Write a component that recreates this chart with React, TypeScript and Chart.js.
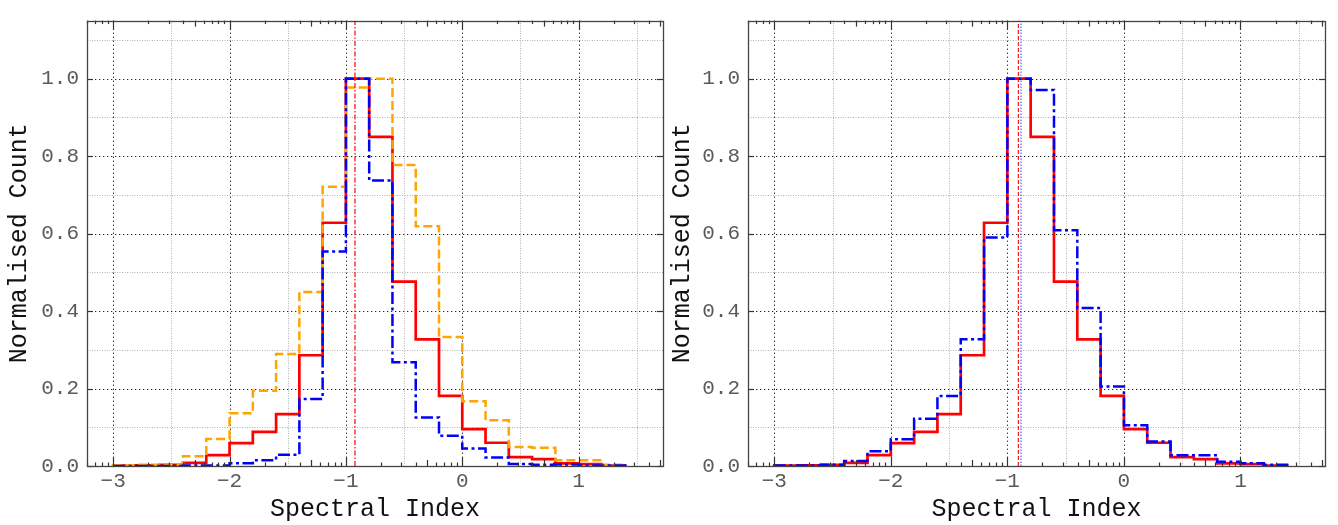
import React, { useEffect, useRef } from 'react';
import { Chart, registerables } from 'chart.js';
Chart.register(...registerables);

// ---- data ----
const binEdges = [-3.0, -2.8, -2.6, -2.4, -2.2, -2.0, -1.8, -1.6, -1.4, -1.2, -1.0, -0.8, -0.6, -0.4, -0.2, 0.0, 0.2, 0.4, 0.6, 0.8, 1.0, 1.2, 1.4];

const leftRed = [0.001, 0.002, 0.003, 0.008, 0.028, 0.059, 0.088, 0.134, 0.286, 0.628, 1.0, 0.85, 0.476, 0.327, 0.181, 0.095, 0.06, 0.023, 0.018, 0.007, 0.005, 0.001];
const leftOrange = [0.002, 0.003, 0.004, 0.025, 0.07, 0.136, 0.194, 0.289, 0.449, 0.721, 0.977, 1.0, 0.777, 0.619, 0.333, 0.167, 0.118, 0.049, 0.047, 0.015, 0.015, 0.003];
const leftBlue = [0.0, 0.0, 0.0, 0.001, 0.001, 0.007, 0.015, 0.029, 0.173, 0.554, 1.0, 0.737, 0.268, 0.125, 0.078, 0.045, 0.022, 0.005, 0.003, 0.004, 0.001, 0.001];

const rightRed = [0.001, 0.002, 0.003, 0.008, 0.028, 0.059, 0.088, 0.134, 0.286, 0.628, 1.0, 0.85, 0.476, 0.327, 0.181, 0.095, 0.06, 0.023, 0.018, 0.007, 0.005, 0.001];
const rightBlue = [0.001, 0.001, 0.003, 0.013, 0.038, 0.069, 0.122, 0.181, 0.327, 0.59, 1.0, 0.971, 0.609, 0.408, 0.205, 0.105, 0.063, 0.028, 0.028, 0.011, 0.007, 0.003];

const leftMedian = -0.922;
const rightRedMedian = -0.906;
const rightBlueMedian = -0.883;

const xMajorTicks = [-3, -2, -1, 0, 1];
const xMinorGrid = [-2.5, -1.5, -0.5, 0.5, 1.5];
const yMajorTicks = [0, 0.2, 0.4, 0.6, 0.8, 1.0];
const yMinorGrid = [0.1, 0.3, 0.5, 0.7, 0.9, 1.1];
const logMinorMultipliers = [2, 3, 4, 5, 6, 7, 8, 9];
const logDecades = [-4, -3, -2, -1, 0, 1];

const X_MIN = -3.225;
const X_MAX = 1.725;
const Y_MIN = 0;
const Y_MAX = 1.15;

const FONT = "'Liberation Mono', 'Courier New', 'DejaVu Sans Mono', monospace";

// step outline: each value holds from its left edge to the next edge
function histPoints(edges: number[], values: number[]) {
  const pts: { x: number; y: number }[] = [{ x: edges[0], y: 0 }];
  values.forEach((v, i) => pts.push({ x: edges[i], y: v }));
  pts.push({ x: edges[edges.length - 1], y: values[values.length - 1] });
  pts.push({ x: edges[edges.length - 1], y: 0 });
  return pts;
}

function vline(x: number) {
  return [{ x, y: Y_MIN }, { x, y: Y_MAX }];
}

function fmtX(v: number) {
  return v < 0 ? '\u2212' + Math.abs(v) : String(v);
}

const framePlugin = {
  id: 'frameTicks',
  beforeDatasetsDraw(chart: any) {
    const { ctx, chartArea, scales } = chart;
    const { left, right, top, bottom } = chartArea;
    const x = scales.x, y = scales.y;
    ctx.save();
    ctx.lineWidth = 1;
    // minor grid
    ctx.strokeStyle = '#b0b0b0';
    ctx.setLineDash([1, 1.5]);
    xMinorGrid.forEach((v) => {
      const px = Math.round(x.getPixelForValue(v)) + 0.5;
      if (px < left || px > right) return;
      ctx.beginPath(); ctx.moveTo(px, top); ctx.lineTo(px, bottom); ctx.stroke();
    });
    yMinorGrid.forEach((v) => {
      const py = Math.round(y.getPixelForValue(v)) + 0.5;
      ctx.beginPath(); ctx.moveTo(left, py); ctx.lineTo(right, py); ctx.stroke();
    });
    // major grid
    ctx.strokeStyle = '#222';
    ctx.setLineDash([1.3, 2.7]);
    xMajorTicks.forEach((v) => {
      const px = Math.round(x.getPixelForValue(v)) + 0.5;
      ctx.beginPath(); ctx.moveTo(px, top); ctx.lineTo(px, bottom); ctx.stroke();
    });
    yMajorTicks.forEach((v) => {
      const py = Math.round(y.getPixelForValue(v)) + 0.5;
      ctx.beginPath(); ctx.moveTo(left, py); ctx.lineTo(right, py); ctx.stroke();
    });
    ctx.restore();
  },
  afterDatasetsDraw(chart: any) {
    const { ctx, chartArea, scales } = chart;
    const { left, right, top, bottom } = chartArea;
    const x = scales.x, y = scales.y;
    ctx.save();
    ctx.setLineDash([]);
    ctx.strokeStyle = '#333';
    ctx.lineWidth = 1.2;
    // log-style minor ticks on top & bottom
    logDecades.forEach((k) => {
      logMinorMultipliers.forEach((m) => {
        const v = k + Math.log10(m);
        if (v <= X_MIN || v >= X_MAX) return;
        const px = Math.round(x.getPixelForValue(v)) + 0.5;
        const len = m === 5 ? 6 : 3.5;
        ctx.beginPath(); ctx.moveTo(px, top); ctx.lineTo(px, top + len); ctx.stroke();
        ctx.beginPath(); ctx.moveTo(px, bottom); ctx.lineTo(px, bottom - len); ctx.stroke();
      });
    });
    xMajorTicks.forEach((v) => {
      const px = Math.round(x.getPixelForValue(v)) + 0.5;
      ctx.beginPath(); ctx.moveTo(px, top); ctx.lineTo(px, top + 9); ctx.stroke();
      ctx.beginPath(); ctx.moveTo(px, bottom); ctx.lineTo(px, bottom - 9); ctx.stroke();
    });
    yMajorTicks.forEach((v) => {
      const py = Math.round(y.getPixelForValue(v)) + 0.5;
      ctx.beginPath(); ctx.moveTo(left, py); ctx.lineTo(left + 6, py); ctx.stroke();
      ctx.beginPath(); ctx.moveTo(right, py); ctx.lineTo(right - 6, py); ctx.stroke();
    });
    // frame
    ctx.strokeStyle = '#444';
    ctx.lineWidth = 1.3;
    ctx.strokeRect(Math.round(left) + 0.5, Math.round(top) + 0.5, Math.round(right - left), Math.round(bottom - top));
    ctx.restore();
  },
};

function makeConfig(datasets: any[], yAxisWidth: number, padRight: number): any {
  return {
    type: 'line',
    data: { datasets },
    plugins: [framePlugin],
    options: {
      animation: false,
      responsive: false,
      devicePixelRatio: 1,
      layout: { padding: { top: 9, right: padRight, left: 0, bottom: 0 } },
      plugins: { legend: { display: false }, tooltip: { enabled: false } },
      elements: { point: { radius: 0 } },
      scales: {
        x: {
          type: 'linear',
          min: X_MIN,
          max: X_MAX,
          afterBuildTicks: (s: any) => { s.ticks = xMajorTicks.map((v) => ({ value: v })); },
          afterFit: (s: any) => { s.height = 59; },
          grid: { display: false, drawTicks: false },
          border: { display: false },
          ticks: {
            callback: (v: any) => fmtX(Number(v)),
            font: { family: FONT, size: 21 },
            color: '#5a5a5a',
            padding: 3,
            maxRotation: 0,
            autoSkip: false,
          },
          title: {
            display: true,
            text: 'Spectral Index',
            font: { family: FONT, size: 25 },
            color: '#111',
            padding: { top: 0, bottom: 1 },
          },
        },
        y: {
          type: 'linear',
          min: Y_MIN,
          max: Y_MAX,
          afterBuildTicks: (s: any) => { s.ticks = yMajorTicks.map((v) => ({ value: v })); },
          afterFit: (s: any) => { s.width = yAxisWidth; },
          grid: { display: false, drawTicks: false },
          border: { display: false },
          ticks: {
            callback: (v: any) => Number(v).toFixed(1),
            font: { family: FONT, size: 21 },
            color: '#5a5a5a',
            padding: 8,
            autoSkip: false,
          },
          title: {
            display: true,
            text: 'Normalised Count',
            font: { family: FONT, size: 25 },
            color: '#111',
            padding: { top: 4, bottom: 4 },
          },
        },
      },
    },
  };
}

const leftDatasets = [
  { data: vline(leftMedian), borderColor: 'red', borderWidth: 1.2, borderDash: [5, 2, 1.5, 2], stepped: false },
  { data: histPoints(binEdges, leftBlue), borderColor: '#0000ff', borderWidth: 2.5, borderDash: [12, 3.5, 3, 3.5], stepped: 'before' },
  { data: histPoints(binEdges, leftOrange), borderColor: 'orange', borderWidth: 2.5, borderDash: [9, 4], stepped: 'before' },
  { data: histPoints(binEdges, leftRed), borderColor: 'red', borderWidth: 2.7, stepped: 'before' },
];

const rightDatasets = [
  { data: vline(rightBlueMedian), borderColor: '#4455ff', borderWidth: 1.1, borderDash: [1.5, 1.5], stepped: false },
  { data: vline(rightRedMedian), borderColor: 'red', borderWidth: 1.1, borderDash: [4, 2], stepped: false },
  { data: histPoints(binEdges, rightBlue), borderColor: '#0000ff', borderWidth: 2.5, borderDash: [12, 3.5, 3, 3.5], stepped: 'before' },
  { data: histPoints(binEdges, rightRed), borderColor: 'red', borderWidth: 2.7, stepped: 'before' },
];

function Panel(props: { datasets: any[]; left: number; width: number; yAxisWidth: number; padRight: number }) {
  const ref = useRef<HTMLCanvasElement>(null);
  useEffect(() => {
    if (!ref.current) return;
    const chart = new Chart(ref.current, makeConfig(props.datasets, props.yAxisWidth, props.padRight));
    return () => chart.destroy();
  }, []);
  return (
    <canvas
      ref={ref}
      width={props.width}
      height={525}
      style={{ position: 'absolute', left: props.left, top: 0, width: props.width, height: 525 }}
    />
  );
}

export default function App() {
  return (
    <div style={{ position: 'absolute', left: 0, top: 0, width: 1338, height: 525, background: '#fff' }}>
      <Panel datasets={leftDatasets} left={0} width={669} yAxisWidth={87} padRight={6} />
      <Panel datasets={rightDatasets} left={663} width={675} yAxisWidth={85} padRight={13} />
    </div>
  );
}
